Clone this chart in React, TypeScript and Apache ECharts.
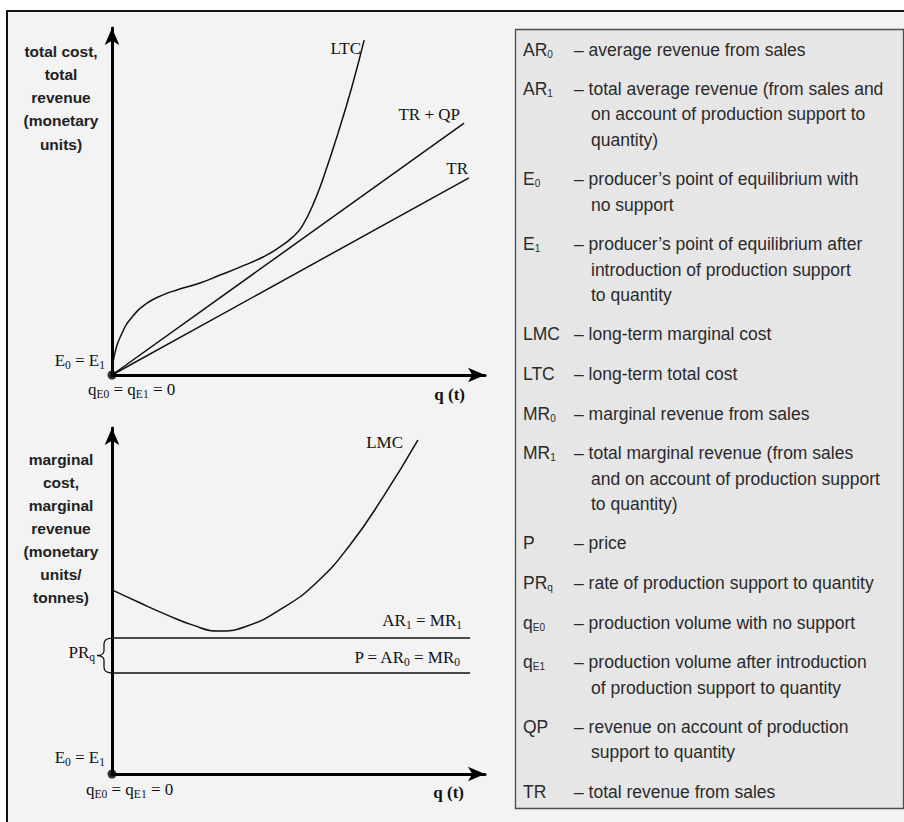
import React, { useEffect, useRef } from 'react';
import * as echarts from 'echarts';

// ---------------- data (both panels use axis units 0..100) ----------------
// Top panel: total cost / total revenue against quantity q
const trQ = [0, 95.7];
const trC = [0, 56.8];
const trqpQ = [0, 94.4];
const trqpC = [0, 72.6];
const ltcQ = [0, 0.6, 2.7, 5.4, 9.4, 13.7, 17.4, 23.6, 29.0, 34.3, 40.5, 45.0, 48.5, 51.0, 54.4, 57.1, 60.6, 64.3, 67.6];
const ltcC = [0, 5.5, 12.1, 16.7, 20.7, 23.1, 24.5, 26.5, 28.8, 31.1, 34.0, 36.9, 39.8, 42.9, 50.4, 58.2, 69.7, 83.0, 96.5];

// Bottom panel: marginal cost / marginal revenue
const lmcQ = [0, 7.0, 14.7, 21.5, 28.5, 35.5, 45.8, 55.0, 63.8, 72.7, 82.0];
const lmcC = [53.2, 49.7, 46.0, 43.1, 41.3, 42.5, 48.0, 55.5, 66.2, 80.1, 96.5];
const ar1Q = [0, 96.0];
const ar1C = [39.3, 39.3];
const pQ = [0, 96.0];
const pC = [29.2, 29.2];

// equilibrium point E0 = E1 at the origin
const eqQ = [0];
const eqC = [0];

const yTitleTop = ['total cost,', 'total', 'revenue', '(monetary', 'units)'];
const yTitleBottom = ['marginal', 'cost,', 'marginal', 'revenue', '(monetary', 'units/', 'tonnes)'];

const legendSymbols = ['AR', 'AR', 'E', 'E', 'LMC', 'LTC', 'MR', 'MR', 'P', 'PR', 'q', 'q', 'QP', 'TR'];
const legendSubs = ['0', '1', '0', '1', '', '', '0', '1', '', 'q', 'E0', 'E1', '', ''];
const legendTexts: string[][] = [
  ['average revenue from sales'],
  ['total average revenue (from sales and', 'on account of production support to', 'quantity)'],
  ['producer\u2019s point of equilibrium with', 'no support'],
  ['producer\u2019s point of equilibrium after', 'introduction of production support', 'to quantity'],
  ['long-term marginal cost'],
  ['long-term total cost'],
  ['marginal revenue from sales'],
  ['total marginal revenue (from sales', 'and on account of production support', 'to quantity)'],
  ['price'],
  ['rate of production support to quantity'],
  ['production volume with no support'],
  ['production volume after introduction', 'of production support to quantity'],
  ['revenue on account of production', 'support to quantity'],
  ['total revenue from sales'],
];

// ---------------- helpers ----------------
const zip = (a: number[], b: number[]) => a.map((v, i) => [v, b[i]]);

const SERIF = '"Liberation Serif", "Times New Roman", Times, serif';
const SANS = '"Liberation Sans", Arial, Helvetica, sans-serif';

const BRACE_D = 'M16 0 C11 0 7 1 7 6 L7 13 C7 16 4 18 0 18 C4 18 7 20 7 23 L7 30 C7 35 11 36 16 36';
echarts.graphic.registerShape('prqBrace', echarts.graphic.extendPath(BRACE_D, {}) as any);

const serifRich = {
  m: { fontFamily: SERIF, fontSize: 17, fill: '#111' },
  s: { fontFamily: SERIF, fontSize: 11.5, fill: '#111', padding: [10, 0, 0, 0] },
  b: { fontFamily: SERIF, fontSize: 17, fontWeight: 'bold', fill: '#111' },
};
const legendRich = {
  a: { fontFamily: SANS, fontSize: 17.5, fill: '#2a2a2a' },
  b: { fontFamily: SANS, fontSize: 10, fill: '#2a2a2a', padding: [9, 0, 0, 0] },
};

const serifLabel = (text: string, x: number, y: number, align: string) => ({
  type: 'text',
  silent: true,
  z: 10,
  x,
  y,
  style: {
    text,
    rich: serifRich,
    fontFamily: SERIF,
    fontSize: 17,
    fill: '#111',
    textAlign: align,
    verticalAlign: 'middle',
  },
});

const axisLine = {
  show: true,
  onZero: false,
  symbol: ['none', 'arrow'],
  symbolSize: [11, 17],
  lineStyle: { color: '#000', width: 3 },
};
const valueAxis = (gridIndex: number) => ({
  type: 'value',
  gridIndex,
  min: 0,
  max: 100,
  axisLine,
  axisTick: { show: false },
  axisLabel: { show: false },
  splitLine: { show: false },
});
const curve = (xi: number, data: number[][], smooth: number | boolean) => ({
  type: 'line',
  xAxisIndex: xi,
  yAxisIndex: xi,
  data,
  smooth,
  symbol: 'none',
  clip: false,
  silent: true,
  z: 3,
  lineStyle: { color: '#111', width: 1.5 },
});

function buildGraphic(ar1Y: number, pY: number, axisX: number) {
  const g: any[] = [];
  // white margin outside the frame (top and left)
  g.push({
    type: 'rect', silent: true, z: 20,
    shape: { x: 0, y: 0, width: 904, height: 10 },
    style: { fill: '#ffffff' },
  });
  g.push({
    type: 'rect', silent: true, z: 20,
    shape: { x: 0, y: 0, width: 6, height: 822 },
    style: { fill: '#ffffff' },
  });
  // outer frame (runs past the right and bottom edges)
  g.push({
    type: 'rect', silent: true, z: 21,
    shape: { x: 7, y: 11, width: 940, height: 860 },
    style: { fill: 'none', stroke: '#111', lineWidth: 2 },
  });
  // legend box
  g.push({
    type: 'rect', silent: true, z: 1,
    shape: { x: 515.5, y: 29.5, width: 388, height: 779 },
    style: { fill: '#e6e6e7', stroke: '#4d4d4d', lineWidth: 1.3 },
  });
  // axis titles
  g.push({
    type: 'text', silent: true, z: 10, x: 61, y: 39.4,
    style: {
      text: yTitleTop.join('\n'), fontFamily: SANS, fontSize: 15.5, fontWeight: 'bold',
      fill: '#222', lineHeight: 23.3, textAlign: 'center', verticalAlign: 'top',
    },
  });
  g.push({
    type: 'text', silent: true, z: 10, x: 61, y: 447.5,
    style: {
      text: yTitleBottom.join('\n'), fontFamily: SANS, fontSize: 15.5, fontWeight: 'bold',
      fill: '#222', lineHeight: 23, textAlign: 'center', verticalAlign: 'top',
    },
  });
  // top panel labels
  g.push(serifLabel('{m|LTC}', 361, 48, 'right'));
  g.push(serifLabel('{m|TR + QP}', 460, 114, 'right'));
  g.push(serifLabel('{m|TR}', 468, 168, 'right'));
  g.push(serifLabel('{m|E}{s|0}{m| = E}{s|1}', 105, 360, 'right'));
  g.push(serifLabel('{m|q}{s|E0}{m| = q}{s|E1}{m| = 0}', 88, 389, 'left'));
  g.push(serifLabel('{b|q (t)}', 465, 394, 'right'));
  // bottom panel labels
  g.push(serifLabel('{m|LMC}', 403, 442, 'right'));
  g.push(serifLabel('{m|AR}{s|1}{m| = MR}{s|1}', 462, 620, 'right'));
  g.push(serifLabel('{m|P = AR}{s|0}{m| = MR}{s|0}', 460, 657, 'right'));
  g.push(serifLabel('{m|PR}{s|q}', 95, 652, 'right'));
  g.push(serifLabel('{m|E}{s|0}{m| = E}{s|1}', 105, 757, 'right'));
  g.push(serifLabel('{m|q}{s|E0}{m| = q}{s|E1}{m| = 0}', 86, 789, 'left'));
  g.push(serifLabel('{b|q (t)}', 464, 792, 'right'));
  // PRq brace spanning the two revenue levels
  g.push({
    type: 'prqBrace', silent: true, z: 10,
    x: axisX - 15, y: ar1Y, scaleX: 1, scaleY: (pY - ar1Y) / 36,
    style: { fill: 'none', stroke: '#111', lineWidth: 1.3 },
  });
  // legend entries
  let y = 49.5;
  for (let i = 0; i < legendSymbols.length; i++) {
    const sub = legendSubs[i];
    g.push({
      type: 'text', silent: true, z: 10, x: 523, y,
      style: {
        text: sub ? `{a|${legendSymbols[i]}}{b|${sub}}` : `{a|${legendSymbols[i]}}`,
        rich: legendRich, fontFamily: SANS, fontSize: 17.5, fill: '#2a2a2a',
        textAlign: 'left', verticalAlign: 'middle',
      },
    });
    const lines = legendTexts[i];
    lines.forEach((ln, k) => {
      g.push({
        type: 'text', silent: true, z: 10, x: k === 0 ? 574 : 591, y: y + k * 25.3,
        style: {
          text: k === 0 ? '\u2013 ' + ln : ln,
          fontFamily: SANS, fontSize: 17.5, fill: '#2a2a2a',
          textAlign: 'left', verticalAlign: 'middle',
        },
      });
    });
    y += (lines.length - 1) * 25.3 + 39.6;
  }
  return g;
}

export default function App() {
  const ref = useRef<HTMLDivElement>(null);
  useEffect(() => {
    if (!ref.current) return;
    const chart = echarts.init(ref.current, null, { renderer: 'svg' });
    const option: any = {
      animation: false,
      backgroundColor: '#f2f3f2',
      grid: [
        { left: 112, top: 28, width: 373, height: 347 },
        { left: 112, top: 428, width: 373, height: 346 },
      ],
      xAxis: [valueAxis(0), valueAxis(1)],
      yAxis: [valueAxis(0), valueAxis(1)],
      series: [
        curve(0, zip(ltcQ, ltcC), 0.5),
        curve(0, zip(trqpQ, trqpC), false),
        curve(0, zip(trQ, trC), false),
        curve(1, zip(lmcQ, lmcC), 0.5),
        curve(1, zip(ar1Q, ar1C), false),
        curve(1, zip(pQ, pC), false),
        {
          type: 'scatter', xAxisIndex: 0, yAxisIndex: 0, data: zip(eqQ, eqC),
          symbolSize: 9, itemStyle: { color: '#000' }, clip: false, silent: true, z: 6,
        },
        {
          type: 'scatter', xAxisIndex: 1, yAxisIndex: 1, data: zip(eqQ, eqC),
          symbolSize: 9, itemStyle: { color: '#000' }, clip: false, silent: true, z: 6,
        },
      ],
    };
    chart.setOption(option);
    const a = chart.convertToPixel({ gridIndex: 1 } as any, [0, ar1C[0]]) as number[];
    const p = chart.convertToPixel({ gridIndex: 1 } as any, [0, pC[0]]) as number[];
    chart.setOption({ graphic: buildGraphic(a[1], p[1], a[0]) });
    return () => chart.dispose();
  }, []);
  return (
    <div
      ref={ref}
      style={{ position: 'absolute', left: 0, top: 0, width: 904, height: 822 }}
    />
  );
}
